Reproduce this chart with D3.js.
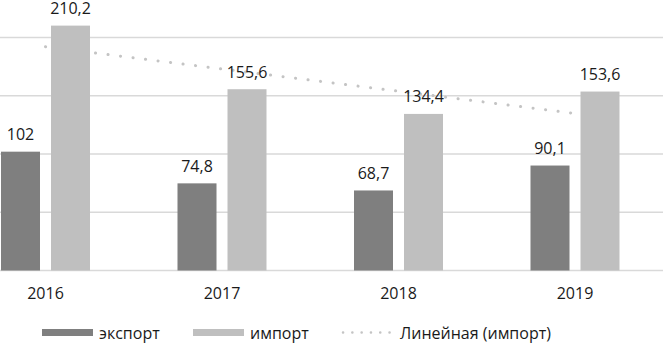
<!DOCTYPE html>
<html><head><meta charset="utf-8">
<script src="https://cdn.jsdelivr.net/npm/d3@7/dist/d3.min.js"></script>
<style>body{margin:0;background:#fff}svg{display:block}</style>
</head><body>
<svg id="chart" width="670" height="343"></svg>
<script>
const years = ["2016", "2017", "2018", "2019"];
const exportValues = [102, 74.8, 68.7, 90.1];
const importValues = [210.2, 155.6, 134.4, 153.6];
const yTicks = [0, 50, 100, 150, 200];
const seriesNames = ["экспорт", "импорт"];
const trendName = "Линейная (импорт)";

const svg = d3.select("#chart");
const font = "'Open Sans', sans-serif";

const x0 = d3.scaleBand().domain(years).range([-42.75, 663.25]).paddingInner(0).paddingOuter(0);
const x1 = d3.scaleBand().domain(seriesNames).range([-44.5, 44.5]).paddingInner(0.22).paddingOuter(0);
const y = d3.scaleLinear().domain([0, 200]).range([270.5, 37.5]);

// gridlines
svg.append("g").selectAll("line").data(yTicks).join("line")
  .attr("x1", 0).attr("x2", 663)
  .attr("y1", d => y(d)).attr("y2", d => y(d))
  .attr("stroke", "#d9d9d9").attr("stroke-width", 1.3);

// trend line (linear regression on import)
const xs = importValues.map((d, i) => i + 1);
const mx = d3.mean(xs), my = d3.mean(importValues);
const slope = d3.sum(xs.map((xv, i) => (xv - mx) * (importValues[i] - my))) / d3.sum(xs.map(xv => (xv - mx) ** 2));
const intercept = my - slope * mx;
const cx = yr => x0(yr) + x0.bandwidth() / 2;
const trendPts = [years[0], years[years.length - 1]].map(yr => {
  const i = years.indexOf(yr) + 1;
  return [cx(yr), y(intercept + slope * i)];
});
svg.append("path")
  .attr("d", d3.line()(trendPts))
  .attr("fill", "none").attr("stroke", "#c4c4c4").attr("stroke-width", 3)
  .attr("stroke-linecap", "round").attr("stroke-dasharray", "0.1 12.5");

const colors = {"экспорт": "#7f7f7f", "импорт": "#bfbfbf"};
const data = years.map((yr, i) => ({year: yr, vals: [
  {s: "экспорт", v: exportValues[i]}, {s: "импорт", v: importValues[i]}]}));

const groups = svg.append("g").selectAll("g").data(data).join("g")
  .attr("transform", d => `translate(${cx(d.year)},0)`);
groups.selectAll("rect").data(d => d.vals).join("rect")
  .attr("x", d => x1(d.s)).attr("width", x1.bandwidth())
  .attr("y", d => y(d.v)).attr("height", d => y(0) - y(d.v))
  .attr("fill", d => colors[d.s]);
groups.selectAll("text").data(d => d.vals).join("text")
  .attr("x", d => x1(d.s) + x1.bandwidth() / 2)
  .attr("y", d => y(d.v) - 11.5)
  .attr("text-anchor", "middle")
  .attr("font-family", font).attr("font-size", 16).attr("fill", "#1a1a1a")
  .text(d => String(d.v).replace(".", ","));

// x axis labels
svg.append("g").selectAll("text").data(years).join("text")
  .attr("x", d => cx(d)).attr("y", 299)
  .attr("text-anchor", "middle")
  .attr("font-family", font).attr("font-size", 16).attr("fill", "#1a1a1a")
  .text(d => d);

// legend
const lg = svg.append("g").attr("font-family", font).attr("font-size", 16).attr("fill", "#1a1a1a");
const legendItems = [
  {name: seriesNames[0], type: "rect", color: colors["экспорт"], x: 42, tx: 99},
  {name: seriesNames[1], type: "rect", color: colors["импорт"], x: 193, tx: 250},
  {name: trendName, type: "line", color: "#c4c4c4", x: 343, tx: 400}
];
legendItems.forEach(it => {
  if (it.type === "rect") {
    lg.append("rect").attr("x", it.x).attr("y", 329).attr("width", 51).attr("height", 7).attr("fill", it.color);
  } else {
    lg.append("line").attr("x1", it.x).attr("x2", it.x + 47).attr("y1", 332.5).attr("y2", 332.5)
      .attr("stroke", it.color).attr("stroke-width", 2.5).attr("stroke-linecap", "round")
      .attr("stroke-dasharray", "0.1 9.2");
  }
  lg.append("text").attr("x", it.tx).attr("y", 339).text(it.name);
});
</script>
</body></html>
